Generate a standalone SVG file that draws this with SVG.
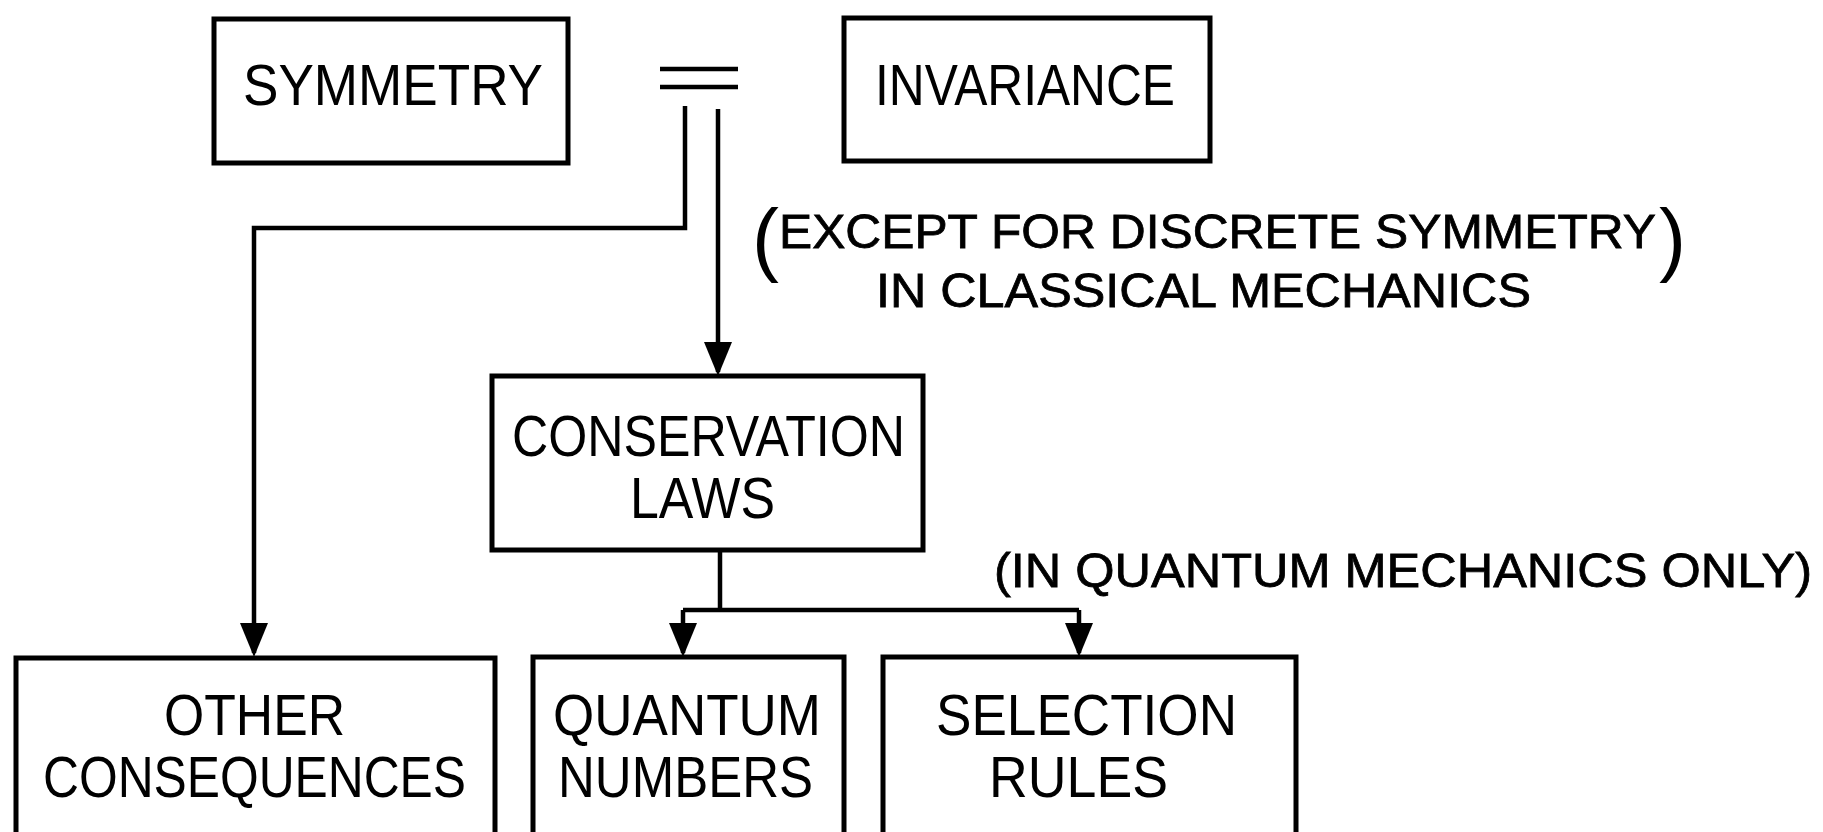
<svg xmlns="http://www.w3.org/2000/svg" width="1823" height="832" viewBox="0 0 1823 832">
<defs>
<style>
.box{fill:#fff;stroke:#000;stroke-width:5}
.lbl{font-family:"Liberation Sans",Arial,sans-serif;font-size:57px;fill:#000}
.note{font-family:"Liberation Sans",Arial,sans-serif;font-size:49px;fill:#000;stroke:#000;stroke-width:0.8}
.paren{font-size:81px;stroke-width:0}
.conn{fill:none;stroke:#000;stroke-width:4.5}
</style>
<marker id="arr" markerUnits="userSpaceOnUse" viewBox="0 0 34 28" markerWidth="34" markerHeight="28" refX="30" refY="14" orient="auto"><path d="M0,0 L34,14 L0,28 Z" fill="#000"/></marker>
</defs>
<rect width="1823" height="832" fill="#fff"/>
<g id="connectors" class="conn">
<path id="equals" d="M660,69 H738 M660,87 H738"/>
<path d="M685,106 V228 H254 V653" marker-end="url(#arr)"/>
<path d="M718,109 V372" marker-end="url(#arr)"/>
<path d="M720,550 V610"/>
<path d="M683,610 H1079"/>
<path d="M683,610 V653" marker-end="url(#arr)"/>
<path d="M1079,610 V653" marker-end="url(#arr)"/>
</g>
<g id="symmetry">
<rect class="box" x="214" y="19" width="354" height="144"/>
<text class="lbl" x="243" y="105" textLength="300" lengthAdjust="spacingAndGlyphs">SYMMETRY</text>
</g>
<g id="invariance">
<rect class="box" x="844" y="18" width="366" height="143"/>
<text class="lbl" x="875" y="105" textLength="300" lengthAdjust="spacingAndGlyphs">INVARIANCE</text>
</g>
<g id="conservation">
<rect class="box" x="492" y="376" width="431" height="174"/>
<text class="lbl" x="512" y="456" textLength="393" lengthAdjust="spacingAndGlyphs">CONSERVATION</text>
<text class="lbl" x="630" y="518" textLength="145" lengthAdjust="spacingAndGlyphs">LAWS</text>
</g>
<g id="other">
<rect class="box" x="16" y="658" width="479" height="182"/>
<text class="lbl" x="164" y="735" textLength="181" lengthAdjust="spacingAndGlyphs">OTHER</text>
<text class="lbl" x="43" y="797" textLength="423" lengthAdjust="spacingAndGlyphs">CONSEQUENCES</text>
</g>
<g id="quantum">
<rect class="box" x="533" y="657" width="311" height="183"/>
<text class="lbl" x="553" y="735" textLength="268" lengthAdjust="spacingAndGlyphs">QUANTUM</text>
<text class="lbl" x="558" y="797" textLength="255" lengthAdjust="spacingAndGlyphs">NUMBERS</text>
</g>
<g id="selection">
<rect class="box" x="883" y="657" width="413" height="183"/>
<text class="lbl" x="936" y="735" textLength="301" lengthAdjust="spacingAndGlyphs">SELECTION</text>
<text class="lbl" x="989" y="797" textLength="179" lengthAdjust="spacingAndGlyphs">RULES</text>
</g>
<g id="note-classical">
<text class="note"><tspan class="paren" x="752" y="266">(</tspan><tspan x="779" y="248" textLength="877" lengthAdjust="spacingAndGlyphs">EXCEPT FOR DISCRETE SYMMETRY</tspan><tspan class="paren" x="1659" y="266">)</tspan></text>
<text class="note" x="876" y="307" textLength="655" lengthAdjust="spacingAndGlyphs">IN CLASSICAL MECHANICS</text>
</g>
<g id="note-quantum">
<text class="note" x="994" y="587" textLength="818" lengthAdjust="spacingAndGlyphs">(IN QUANTUM MECHANICS ONLY)</text>
</g>
</svg>
